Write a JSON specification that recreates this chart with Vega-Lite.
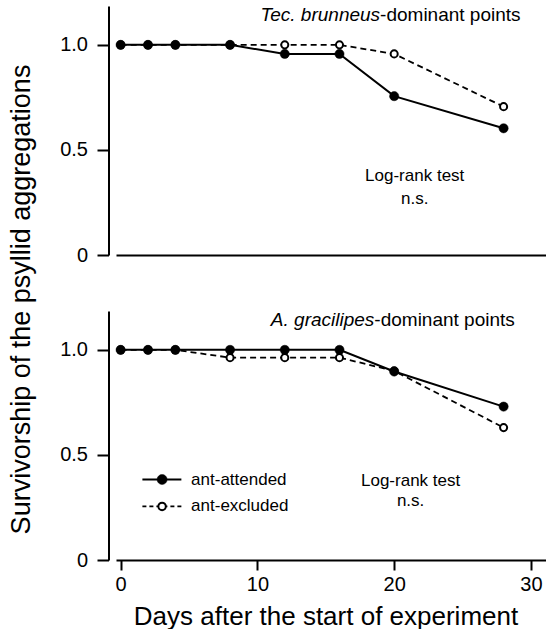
{
  "$schema": "https://vega.github.io/schema/vega-lite/v6.json",
  "padding": {"left": 7, "top": 6, "right": 0, "bottom": 0},
  "background": "white",
  "spacing": 56,
  "bounds": "flush",
  "config": {
    "view": {"stroke": null},
    "font": "Liberation Sans",
    "axis": {"grid": false, "domainColor": "black", "tickColor": "black", "labelColor": "black", "titleColor": "black", "domainWidth": 2, "tickWidth": 2, "labelFont": "Liberation Sans", "titleFont": "Liberation Sans"}
  },
  "datasets": {
    "surv": [
      {"panel": "top", "group": "ant-excluded", "day": 0, "surv": 1.0},
      {"panel": "top", "group": "ant-excluded", "day": 2, "surv": 1.0},
      {"panel": "top", "group": "ant-excluded", "day": 4, "surv": 1.0},
      {"panel": "top", "group": "ant-excluded", "day": 8, "surv": 1.0},
      {"panel": "top", "group": "ant-excluded", "day": 12, "surv": 1.0},
      {"panel": "top", "group": "ant-excluded", "day": 16, "surv": 1.0},
      {"panel": "top", "group": "ant-excluded", "day": 20, "surv": 0.957},
      {"panel": "top", "group": "ant-excluded", "day": 28, "surv": 0.706},
      {"panel": "top", "group": "ant-attended", "day": 0, "surv": 1.0},
      {"panel": "top", "group": "ant-attended", "day": 2, "surv": 1.0},
      {"panel": "top", "group": "ant-attended", "day": 4, "surv": 1.0},
      {"panel": "top", "group": "ant-attended", "day": 8, "surv": 1.0},
      {"panel": "top", "group": "ant-attended", "day": 12, "surv": 0.957},
      {"panel": "top", "group": "ant-attended", "day": 16, "surv": 0.957},
      {"panel": "top", "group": "ant-attended", "day": 20, "surv": 0.756},
      {"panel": "top", "group": "ant-attended", "day": 28, "surv": 0.603},
      {"panel": "bottom", "group": "ant-excluded", "day": 0, "surv": 1.0},
      {"panel": "bottom", "group": "ant-excluded", "day": 2, "surv": 1.0},
      {"panel": "bottom", "group": "ant-excluded", "day": 4, "surv": 1.0},
      {"panel": "bottom", "group": "ant-excluded", "day": 8, "surv": 0.963},
      {"panel": "bottom", "group": "ant-excluded", "day": 12, "surv": 0.963},
      {"panel": "bottom", "group": "ant-excluded", "day": 16, "surv": 0.963},
      {"panel": "bottom", "group": "ant-excluded", "day": 20, "surv": 0.9},
      {"panel": "bottom", "group": "ant-excluded", "day": 28, "surv": 0.63},
      {"panel": "bottom", "group": "ant-attended", "day": 0, "surv": 1.0},
      {"panel": "bottom", "group": "ant-attended", "day": 2, "surv": 1.0},
      {"panel": "bottom", "group": "ant-attended", "day": 4, "surv": 1.0},
      {"panel": "bottom", "group": "ant-attended", "day": 8, "surv": 1.0},
      {"panel": "bottom", "group": "ant-attended", "day": 12, "surv": 1.0},
      {"panel": "bottom", "group": "ant-attended", "day": 16, "surv": 1.0},
      {"panel": "bottom", "group": "ant-attended", "day": 20, "surv": 0.897},
      {"panel": "bottom", "group": "ant-attended", "day": 28, "surv": 0.73}
    ]
  },
  "vconcat": [
    {
      "width": 430,
      "height": 249,
      "layer": [
        {"data": {"name": "surv"},
         "transform": [{"filter": "datum.panel == 'top' && datum.group == 'ant-excluded'"}],
         "mark": {"type": "line", "color": "black", "strokeWidth": 1.8, "strokeDash": [6, 4]},
         "encoding": {
           "x": {"field": "day", "type": "quantitative", "scale": {"domain": [-0.34, 31.1], "nice": false, "zero": false},
                 "axis": {"title": null, "ticks": false, "labels": false, "domain": true}},
           "y": {"field": "surv", "type": "quantitative", "scale": {"domain": [0, 1.185], "nice": false, "zero": false},
                 "axis": {"title": null, "values": [0, 0.5, 1], "labelExpr": "datum.value == 0 ? '0' : format(datum.value, '.1f')", "offset": 7.5, "tickSize": 11.5, "labelPadding": 9.5, "labelFontSize": 20}}
         }},
        {"data": {"name": "surv"},
         "transform": [{"filter": "datum.panel == 'top' && datum.group == 'ant-attended'"}],
         "mark": {"type": "line", "color": "black", "strokeWidth": 2},
         "encoding": {"x": {"field": "day", "type": "quantitative"}, "y": {"field": "surv", "type": "quantitative"}}},
        {"data": {"name": "surv"},
         "transform": [{"filter": "datum.panel == 'top' && datum.group == 'ant-excluded'"}],
         "mark": {"type": "point", "shape": "circle", "filled": true, "fill": "white", "stroke": "black", "strokeWidth": 2, "size": 50, "opacity": 1},
         "encoding": {"x": {"field": "day", "type": "quantitative"}, "y": {"field": "surv", "type": "quantitative"}}},
        {"data": {"name": "surv"},
         "transform": [{"filter": "datum.panel == 'top' && datum.group == 'ant-attended'"}],
         "mark": {"type": "point", "shape": "circle", "filled": true, "fill": "black", "stroke": "black", "strokeWidth": 0.5, "size": 85, "opacity": 1},
         "encoding": {"x": {"field": "day", "type": "quantitative"}, "y": {"field": "surv", "type": "quantitative"}}},
        {"data": {"values": [{"label": "Tec. brunneus"}]},
         "mark": {"type": "text", "align": "right", "baseline": "middle", "fontSize": 19, "fontStyle": "italic", "color": "black"},
         "encoding": {"x": {"datum": 18.97}, "y": {"datum": 1.14}, "text": {"field": "label"}}},
        {"data": {"values": [{"label": "-dominant points"}]},
         "mark": {"type": "text", "align": "left", "baseline": "middle", "fontSize": 19, "color": "black"},
         "encoding": {"x": {"datum": 18.97}, "y": {"datum": 1.14}, "text": {"field": "label"}}},
        {"data": {"values": [{"label": "Log-rank test"}]},
         "mark": {"type": "text", "align": "center", "baseline": "middle", "fontSize": 17, "color": "black"},
         "encoding": {"x": {"datum": 21.5}, "y": {"datum": 0.378}, "text": {"field": "label"}}},
        {"data": {"values": [{"label": "n.s."}]},
         "mark": {"type": "text", "align": "center", "baseline": "middle", "fontSize": 17, "color": "black"},
         "encoding": {"x": {"datum": 21.5}, "y": {"datum": 0.268}, "text": {"field": "label"}}}
      ]
    },
    {
      "width": 430,
      "height": 249,
      "layer": [
        {"data": {"name": "surv"},
         "transform": [{"filter": "datum.panel == 'bottom' && datum.group == 'ant-excluded'"}],
         "mark": {"type": "line", "color": "black", "strokeWidth": 1.8, "strokeDash": [6, 4]},
         "encoding": {
           "x": {"field": "day", "type": "quantitative", "scale": {"domain": [-0.34, 31.1], "nice": false, "zero": false},
                 "axis": {"title": "Days after the start of experiment", "values": [0, 10, 20, 30], "tickSize": 10, "labelPadding": 4, "labelFontSize": 20, "titleFontSize": 26, "titleFontWeight": "normal", "titleX": 209.5, "titlePadding": 9}},
           "y": {"field": "surv", "type": "quantitative", "scale": {"domain": [0, 1.185], "nice": false, "zero": false},
                 "axis": {"title": "Survivorship of the psyllid aggregations", "values": [0, 0.5, 1], "labelExpr": "datum.value == 0 ? '0' : format(datum.value, '.1f')", "offset": 7.5, "tickSize": 11.5, "labelPadding": 9.5, "labelFontSize": 20, "titleFontSize": 27, "titleFontWeight": "normal", "titleX": -73, "titleY": -12}}
         }},
        {"data": {"name": "surv"},
         "transform": [{"filter": "datum.panel == 'bottom' && datum.group == 'ant-attended'"}],
         "mark": {"type": "line", "color": "black", "strokeWidth": 2},
         "encoding": {"x": {"field": "day", "type": "quantitative"}, "y": {"field": "surv", "type": "quantitative"}}},
        {"data": {"name": "surv"},
         "transform": [{"filter": "datum.panel == 'bottom' && datum.group == 'ant-excluded'"}],
         "mark": {"type": "point", "shape": "circle", "filled": true, "fill": "white", "stroke": "black", "strokeWidth": 2, "size": 50, "opacity": 1},
         "encoding": {"x": {"field": "day", "type": "quantitative"}, "y": {"field": "surv", "type": "quantitative"}}},
        {"data": {"name": "surv"},
         "transform": [{"filter": "datum.panel == 'bottom' && datum.group == 'ant-attended'"}],
         "mark": {"type": "point", "shape": "circle", "filled": true, "fill": "black", "stroke": "black", "strokeWidth": 0.5, "size": 85, "opacity": 1},
         "encoding": {"x": {"field": "day", "type": "quantitative"}, "y": {"field": "surv", "type": "quantitative"}}},
        {"data": {"values": [{"label": "A. gracilipes"}]},
         "mark": {"type": "text", "align": "right", "baseline": "middle", "fontSize": 19, "fontStyle": "italic", "color": "black"},
         "encoding": {"x": {"datum": 18.55}, "y": {"datum": 1.142}, "text": {"field": "label"}}},
        {"data": {"values": [{"label": "-dominant points"}]},
         "mark": {"type": "text", "align": "left", "baseline": "middle", "fontSize": 19, "color": "black"},
         "encoding": {"x": {"datum": 18.55}, "y": {"datum": 1.142}, "text": {"field": "label"}}},
        {"data": {"values": [{"label": "Log-rank test"}]},
         "mark": {"type": "text", "align": "center", "baseline": "middle", "fontSize": 17, "color": "black"},
         "encoding": {"x": {"datum": 21.2}, "y": {"datum": 0.375}, "text": {"field": "label"}}},
        {"data": {"values": [{"label": "n.s."}]},
         "mark": {"type": "text", "align": "center", "baseline": "middle", "fontSize": 17, "color": "black"},
         "encoding": {"x": {"datum": 21.2}, "y": {"datum": 0.28}, "text": {"field": "label"}}},
        {"data": {"values": [{"group": "ant-attended"}]},
         "mark": {"type": "rule", "color": "black", "strokeWidth": 2},
         "encoding": {"x": {"datum": 1.59}, "x2": {"datum": 4.44}, "y": {"datum": 0.383}}},
        {"data": {"values": [{"group": "ant-excluded"}]},
         "mark": {"type": "rule", "color": "black", "strokeWidth": 1.8, "strokeDash": [4, 3]},
         "encoding": {"x": {"datum": 1.59}, "x2": {"datum": 4.44}, "y": {"datum": 0.255}}},
        {"data": {"values": [{"group": "ant-attended"}]},
         "mark": {"type": "point", "shape": "circle", "filled": true, "fill": "black", "stroke": "black", "strokeWidth": 0.5, "size": 100, "opacity": 1},
         "encoding": {"x": {"datum": 3.03}, "y": {"datum": 0.383}}},
        {"data": {"values": [{"group": "ant-excluded"}]},
         "mark": {"type": "point", "shape": "circle", "filled": true, "fill": "white", "stroke": "black", "strokeWidth": 2, "size": 55, "opacity": 1},
         "encoding": {"x": {"datum": 3.03}, "y": {"datum": 0.255}}},
        {"data": {"values": [{"label": "ant-attended"}]},
         "mark": {"type": "text", "align": "left", "baseline": "middle", "fontSize": 17, "color": "black"},
         "encoding": {"x": {"datum": 5.15}, "y": {"datum": 0.383}, "text": {"field": "label"}}},
        {"data": {"values": [{"label": "ant-excluded"}]},
         "mark": {"type": "text", "align": "left", "baseline": "middle", "fontSize": 17, "color": "black"},
         "encoding": {"x": {"datum": 5.15}, "y": {"datum": 0.255}, "text": {"field": "label"}}}
      ]
    }
  ]
}
